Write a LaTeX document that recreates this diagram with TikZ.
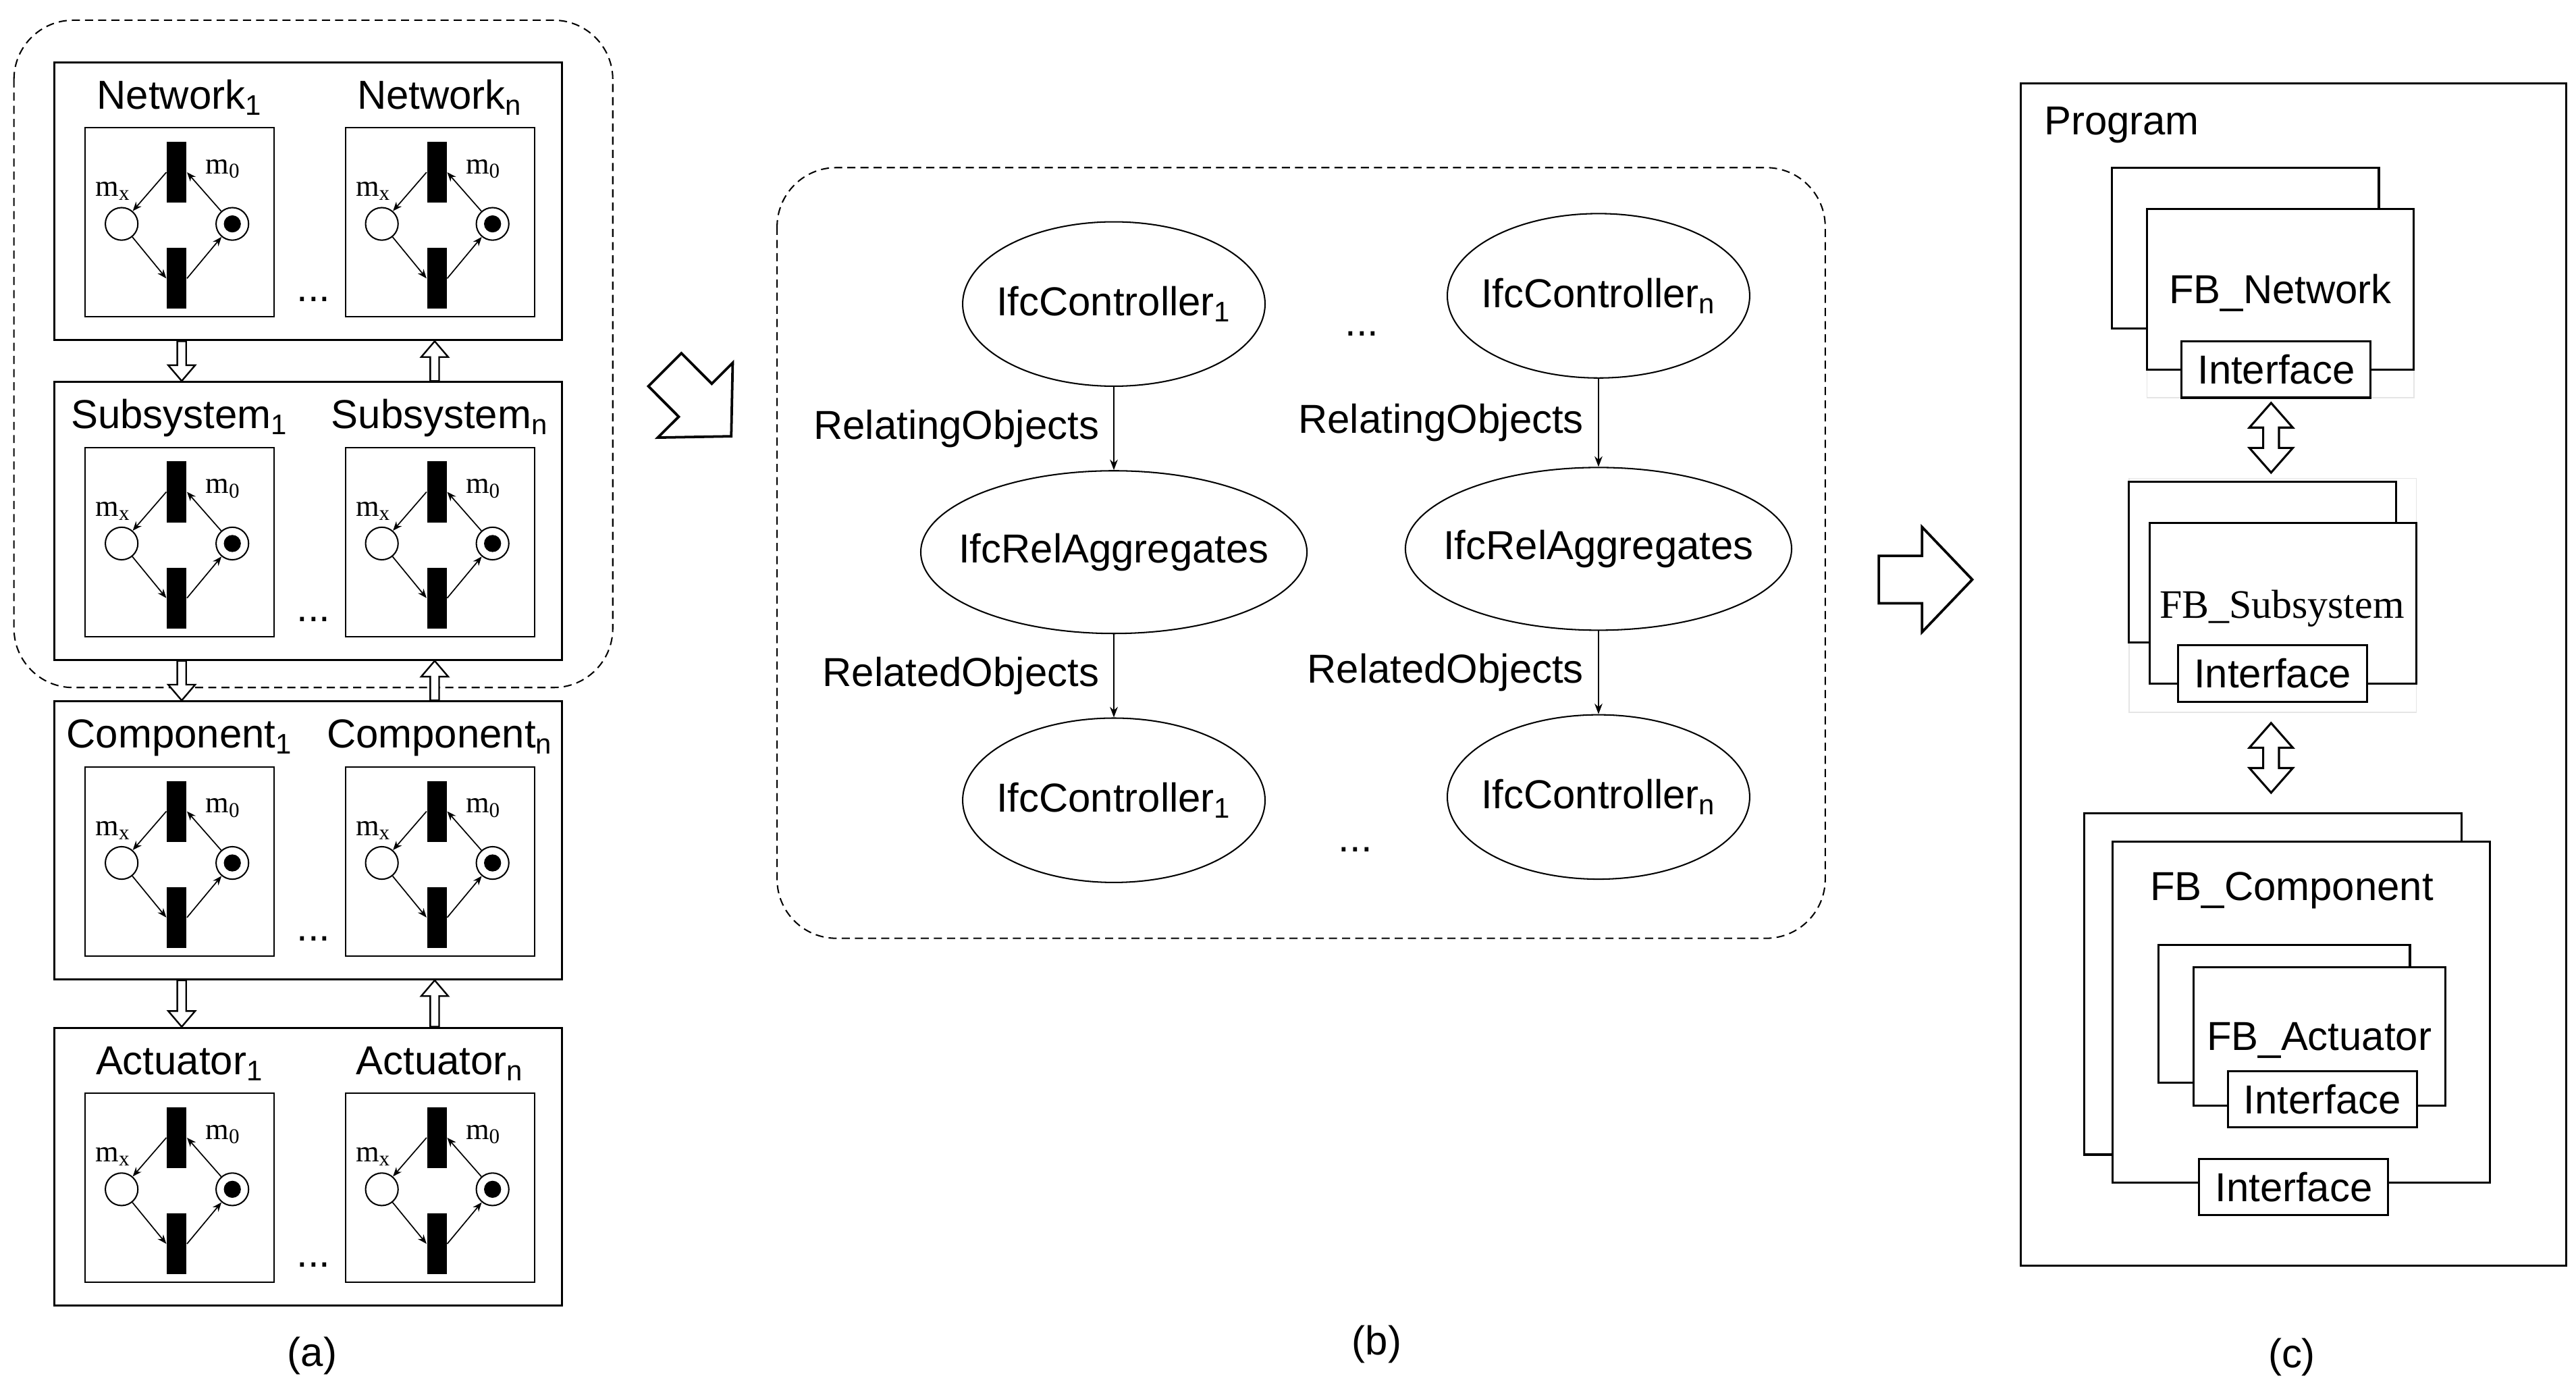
\documentclass[tikz,border=0pt]{standalone}
\usepackage{fontspec}
\setmainfont{Liberation Sans}
\newfontfamily\timesfont{Liberation Serif}
\usetikzlibrary{shapes.geometric, arrows.meta, calc, positioning}

\tikzset{
  every node/.style={font=\fontsize{17.5}{21}\selectfont},
  % boxes of part (a)
  layerbox/.style={draw, line width=0.9pt, minimum width=7.725cm, minimum height=4.225cm, inner sep=0},
  petribox/.style={draw, line width=0.6pt, minimum size=2.875cm, inner sep=0},
  bar/.style={fill=black, minimum width=0.3cm, minimum height=0.925cm, inner sep=0},
  place/.style={circle, draw, line width=0.6pt, fill=white, minimum size=0.495cm, inner sep=0},
  token/.style={circle, fill=black, minimum size=0.26cm, inner sep=0},
  mlabel/.style={font=\timesfont\fontsize{13}{15}\selectfont, inner sep=0},
  pnarrow/.style={line width=0.5pt, -{Stealth[length=1.4mm, width=1.1mm]}},
  group/.style={draw, line width=0.6pt, dash pattern=on 3.5pt off 2.2pt, rounded corners=0.9cm},
  % part (b)
  ifc/.style={ellipse, draw, line width=0.6pt, minimum width=4.6cm, minimum height=2.5cm, inner xsep=-0.2cm, inner ysep=0},
  rel/.style={ellipse, draw, line width=0.6pt, minimum width=5.875cm, minimum height=2.475cm, inner xsep=-0.35cm, inner ysep=0},
  arrow/.style={line width=0.5pt, -{Stealth[length=1.6mm, width=1.2mm]}},
  % part (c)
  fb/.style={draw, fill=white, line width=0.9pt, inner sep=0},
  iface/.style={draw, fill=white, line width=0.9pt, minimum width=2.875cm, minimum height=0.855cm, inner sep=0},
  faint/.style={draw=black!10, line width=0.4pt},
  % hollow block arrows: shaft half width, head half width, head length
  hollow/.style n args={3}{draw, fill=white, to path={
      ($(\tikztotarget)!#3!(\tikztostart)$) coordinate (hb)
      ($(\tikztostart)!#1!90:(\tikztotarget)$)
      -- ($(hb)!#1!90:(\tikztotarget)$) -- ($(hb)!#2!90:(\tikztotarget)$)
      -- (\tikztotarget)
      -- ($(hb)!#2!-90:(\tikztotarget)$) -- ($(hb)!#1!-90:(\tikztotarget)$)
      -- ($(\tikztostart)!#1!-90:(\tikztotarget)$) -- cycle}},
  dhollow/.style n args={3}{draw, fill=white, to path={
      ($(\tikztostart)!#3!(\tikztotarget)$) coordinate (ha)
      ($(\tikztotarget)!#3!(\tikztostart)$) coordinate (hb)
      (\tikztostart) -- ($(ha)!#2!90:(\tikztotarget)$) -- ($(ha)!#1!90:(\tikztotarget)$)
      -- ($(hb)!#1!-90:(\tikztostart)$) -- ($(hb)!#2!-90:(\tikztostart)$)
      -- (\tikztotarget)
      -- ($(hb)!#2!90:(\tikztostart)$) -- ($(hb)!#1!90:(\tikztostart)$)
      -- ($(ha)!#1!-90:(\tikztotarget)$) -- ($(ha)!#2!-90:(\tikztotarget)$) -- cycle}},
  pics/petri/.style={code={
    \node[petribox] (-box) at (0,0) {};
    \node[bar] (-t1) at (-1.8,-30.5) {};
    \node[bar] (-t2) at (-1.8,34.1) {};
    \node[place] (-px) at (-35.3,0.9) {};
    \node[place] (-p0) at (32.1,0.9) {};
    \node[token] (-tok) at (-p0) {};
    \node[mlabel] (-mx) at (-40.5,-18.9) {m\textsubscript{x}};
    \node[mlabel] (-m0) at (26.5,-32.5) {m\textsubscript{0}};
    \draw[pnarrow] (-t1.west) -- (-px);
    \draw[pnarrow] (-p0) -- (-t1.east);
    \draw[pnarrow] (-px) -- (-t2.west);
    \draw[pnarrow] (-t2.east) -- (-p0);
  }}
}

\begin{document}
\begin{tikzpicture}[x=0.025cm, y=-0.025cm]
  \useasboundingbox (0,0) rectangle (1568,850);

  % (a) layers
  \draw[group] (8.5,12.3) rectangle (373,418.4);
  \foreach \lay/\lab/\yc in {net/Network/122.5, sub/Subsystem/317, com/Component/511.4, act/Actuator/710}{
    \node[layerbox] (\lay) at (187.5,\yc) {};
    \pic (\lay L) at ($(\lay.north west)+(77,98)$) {petri};
    \pic (\lay R) at ($(\lay.north west)+(235.4,98)$) {petri};
    \node[anchor=base] (\lay-l1) at ($(\lay.north west)+(77,29)$) {\lab\textsubscript{1}};
    \node[anchor=base] (\lay-ln) at ($(\lay.north west)+(235.4,29)$) {\lab\textsubscript{n}};
    \node (\lay-dots) at ($(\lay.north west)+(158.5,145)$) {...};
  }
  \coordinate (dnx) at (110.6,0);
  \coordinate (upx) at (264.6,0);
  \draw[hollow={0.0675cm}{0.205cm}{0.24cm}, line width=0.7pt] (net.south -| dnx) to (sub.north -| dnx);
  \draw[hollow={0.0675cm}{0.205cm}{0.24cm}, line width=0.7pt] (sub.south -| dnx) to (com.north -| dnx);
  \draw[hollow={0.0675cm}{0.205cm}{0.24cm}, line width=0.7pt] (com.south -| dnx) to (act.north -| dnx);
  \draw[hollow={0.0675cm}{0.205cm}{0.24cm}, line width=0.7pt] (sub.north -| upx) to (net.south -| upx);
  \draw[hollow={0.0675cm}{0.205cm}{0.24cm}, line width=0.7pt] (com.north -| upx) to (sub.south -| upx);
  \draw[hollow={0.0675cm}{0.205cm}{0.24cm}, line width=0.7pt] (act.north -| upx) to (com.south -| upx);
  \node (capa) at (190,825) {(a)};

  % big arrows
  \coordinate (ab1) at (404.7,225);
  \coordinate (ab2) at (445.1,265.5);
  \coordinate (bc1) at (1143.6,352.7);
  \coordinate (bc2) at (1200.5,352.7);
  \draw[hollow={0.355cm}{0.805cm}{0.775cm}, line width=1.1pt] (ab1) to (ab2);
  \draw[hollow={0.36cm}{0.8cm}{0.765cm}, line width=1.1pt] (bc1) to (bc2);

  % (b) IFC relations
  \draw[group] (473,102) rectangle (1111,571);
  \node[ifc] (c1) at (678,185) {IfcController\textsubscript{1}};
  \node[ifc] (cn) at (973,180) {IfcController\textsubscript{n}};
  \node[rel] (r1) at (678,336) {IfcRelAggregates};
  \node[rel] (rn) at (973,334) {IfcRelAggregates};
  \node[ifc] (d1) at (678,487) {IfcController\textsubscript{1}};
  \node[ifc] (dn) at (973,485) {IfcController\textsubscript{n}};
  \node (topdots) at (829,203) {...};
  \node (botdots) at (825,517) {...};
  \draw[arrow] (c1) -- node[left=0.1cm] {RelatingObjects} (r1);
  \draw[arrow] (cn) -- node[left=0.1cm] {RelatingObjects} (rn);
  \draw[arrow] (r1) -- node[left=0.1cm] {RelatedObjects} (d1);
  \draw[arrow] (rn) -- node[left=0.1cm] {RelatedObjects} (dn);
  \node (capb) at (838,818) {(b)};

  % (c) program
  \node[draw, line width=0.9pt, minimum width=8.3cm, minimum height=17.99cm, inner sep=0] (prog) at (1396,410.5) {};
  \node[anchor=base west, inner sep=0] (progl) at (1244,82) {Program};
  \draw[faint] (1306.9,127.2) rectangle (1469.3,242);
  \draw[faint] (1295.9,291) rectangle (1470.7,433.5);

  \node[fb, minimum width=4.06cm, minimum height=2.44cm] (netback) at (1366.8,151) {};
  \node[fb, minimum width=4.06cm, minimum height=2.44cm] (netfront) at (1388.1,176) {};
  \node[anchor=base, inner sep=0] (netname) at (1388,184.5) {FB\_Network};
  \node[iface] (netif) at (1385.5,224.9) {Interface};

  \node[fb, minimum width=4.06cm, minimum height=2.44cm] (subback) at (1377.1,342) {};
  \node[fb, minimum width=4.06cm, minimum height=2.44cm] (subfront) at (1389.6,367.2) {};
  \node[anchor=base, inner sep=0, font=\timesfont\fontsize{17.5}{21}\selectfont] (subname) at (1389,376.1) {FB\_Subsystem};
  \node[iface] (subif) at (1383.4,409.9) {Interface};

  \node[fb, minimum width=5.74cm, minimum height=5.19cm] (comback) at (1383.6,598.8) {};
  \node[fb, minimum width=5.74cm, minimum height=5.19cm] (comfront) at (1400.9,616) {};
  \node[anchor=base, inner sep=0] (comname) at (1395,548) {FB\_Component};
  \node[fb, minimum width=3.83cm, minimum height=2.1cm] (actback) at (1390.3,617) {};
  \node[fb, minimum width=3.83cm, minimum height=2.1cm] (actfront) at (1411.7,630.8) {};
  \node[anchor=base, inner sep=0] (actname) at (1411.7,639.3) {FB\_Actuator};
  \node[iface] (actif) at (1413.6,668.9) {Interface};
  \node[iface] (comif) at (1396.2,722.3) {Interface};

  \coordinate (da1) at (1382.4,245.2);
  \coordinate (da2) at (1382.4,287.6);
  \coordinate (db1) at (1382.4,440);
  \coordinate (db2) at (1382.4,482.4);
  \draw[dhollow={0.12cm}{0.33cm}{0.375cm}, line width=0.9pt] (da1) to (da2);
  \draw[dhollow={0.12cm}{0.33cm}{0.375cm}, line width=0.9pt] (db1) to (db2);
  \node (capc) at (1395,826) {(c)};
\end{tikzpicture}
\end{document}
